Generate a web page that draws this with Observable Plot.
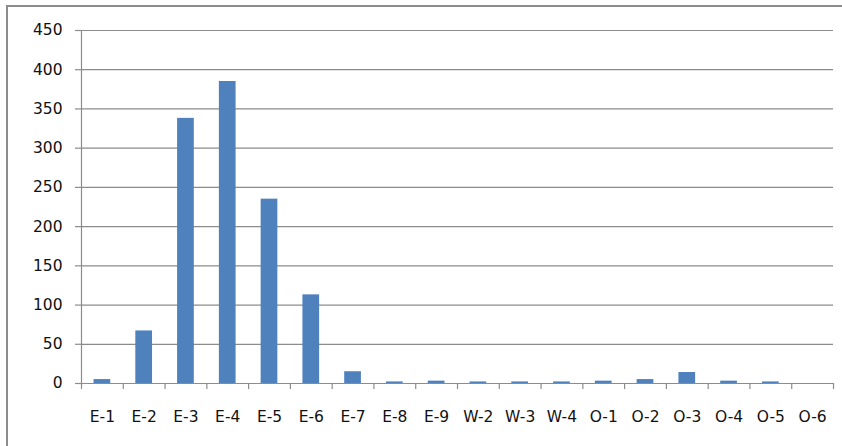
<!DOCTYPE html>
<html>
<head>
<meta charset="utf-8">
<script src="https://cdn.jsdelivr.net/npm/d3@7"></script>
<script src="https://cdn.jsdelivr.net/npm/@observablehq/plot@0.6"></script>
<style>
  html, body { margin: 0; padding: 0; background: #fff; overflow: hidden; }
  #wrap { position: relative; width: 842px; height: 446px; }
  #border { position: absolute; left: 6px; top: 5px; width: 900px; height: 500px;
            border-left: 2px solid #8c8c8c; border-top: 2px solid #8c8c8c; box-sizing: border-box; }
  #chart { position: absolute; left: 0; top: 0; }
</style>
</head>
<body>
<div id="wrap"><div id="border"></div><div id="chart"></div></div>
<script>
const categories = ["E-1","E-2","E-3","E-4","E-5","E-6","E-7","E-8","E-9","W-2","W-3","W-4","O-1","O-2","O-3","O-4","O-5","O-6"];
const values = [5, 67, 338, 385, 235, 113, 15, 2, 3, 2, 2, 2, 3, 5, 14, 3, 2, 0];
const yTicks = [0, 50, 100, 150, 200, 250, 300, 350, 400, 450];

const data = categories.map((c, i) => ({category: c, value: values[i]}));

const W = 842, H = 446;
const mL = 81, mR = 9, mT = 30, mB = 63;
const step = (W - mL - mR) / categories.length;
const grid = "#8c8c8c";
const fs = 15.5;

const chart = Plot.plot({
  width: W,
  height: H,
  marginLeft: mL,
  marginRight: mR,
  marginTop: mT,
  marginBottom: mB,
  style: {fontFamily: "DejaVu Sans", fontSize: fs + "px", color: "#111", background: "transparent"},
  x: {domain: categories, paddingInner: 0.6, paddingOuter: 0.3, round: false, label: null},
  y: {domain: [0, 450], label: null},
  marks: [
    Plot.gridY(yTicks, {stroke: grid, strokeOpacity: 1, strokeWidth: 1.2}),
    Plot.barY(data, {x: "category", y: "value", fill: "#4f81bd"}),
    Plot.ruleY([0], {stroke: grid, strokeWidth: 1.2}),
    Plot.frame({anchor: "left", stroke: grid, strokeWidth: 1.2}),
    Plot.ruleX(categories, {x: d => d, y1: 0, y2: 0, insetBottom: -6, dx: -step / 2, stroke: grid, strokeWidth: 1.2}),
    Plot.ruleX([categories[categories.length - 1]], {x: d => d, y1: 0, y2: 0, insetBottom: -6, dx: step / 2, stroke: grid, strokeWidth: 1.2}),
    Plot.axisY(yTicks, {tickSize: 6, tickPadding: 13, stroke: grid, strokeWidth: 1.2, tickFormat: d => String(d), fill: "#111", fontSize: fs}),
    Plot.axisX({tickSize: 0, tickPadding: 27, fill: "#111", fontSize: fs})
  ]
});
document.getElementById("chart").appendChild(chart);
</script>
</body>
</html>
